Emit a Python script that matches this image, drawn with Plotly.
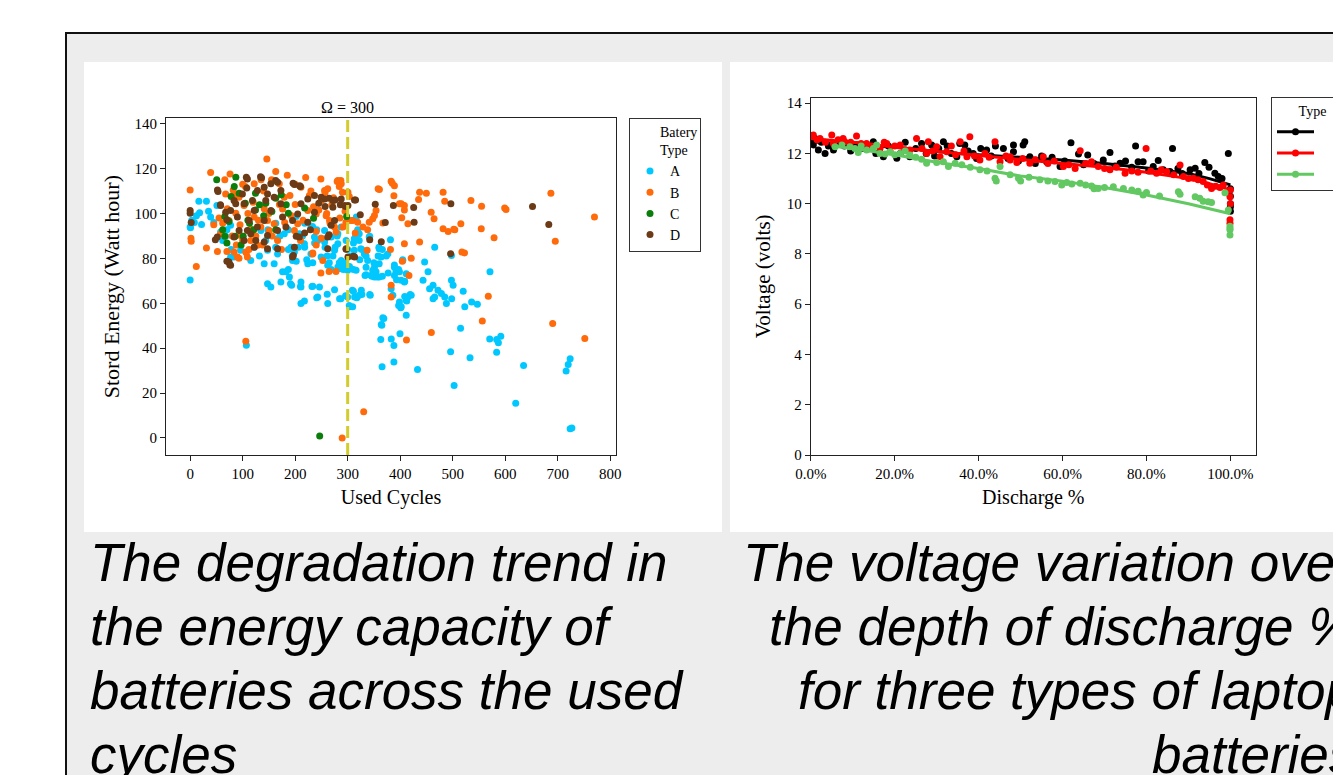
import plotly.graph_objects as go

# ---------------- data: left chart (Used Cycles vs Stored Energy) ----------------
A_points = [
 (0,94),(0,70.4),(3,97),(16.6,105.5),(31,105.5),(18,100.3),(21.7,95.1),(39,98.4),(45,96),(51,103.6),(12,99),(35,101),(8,96),(0.6,93.6),
 (58,91.7),(67.6,89.8),(77,94.7),(62,88),(70,92.7),(78,84),(77,80.6),(83.6,80.6),(96,83.6),(115.4,79),(122,85),(132,81),(134.6,92.4),
 (141,77.6),(144,88),(147.4,83.6),(148,92.7),(160,77.6),(163,85),(163,95.7),(166.5,82),(166.5,88.7),(171,90),(179.3,91),(182.4,74),
 (187,84),(187,92.7),(189,71.7),(192,85),(194.5,81),(195,79),(198.5,82.8),(202,78.7),(202,98.7),(206,85),(208,91),(214,90),(217.6,86.5),
 (218,85),(218,95.7),(222,79.4),(224,77.6),(230,82),(230,94),(233.5,78),(233,94.2),(236.7,89.5),(237,86.8),(241,92.7),(243,88),(249,89),
 (249.4,80.6),(256,87.3),(256,92.4),(257,85),(261,81),(262,76.9),(265,78),(268.5,75),(268.5,89.5),(272,81),(275,83.6),(276,85),(280,90),
 (281.3,76.1),(281.3,86.5),(281.3,91),(284,78),(287.7,75.4),(287.7,79),(287.7,94),(288,76.4),(292,75),(294,76.9),(296,78),(297,88),
 (300,83.9),(300,74.7),(300.5,96.9),(303.5,76.4),(307,81),(311,86.8),(311,75),(313.3,88),(315,89.8),(316,74.7),(316.4,98.4),(319,92.7),
 (322,91),(312.6,83.6),(312.6,88.7),(322,88),(323,79.4),(325,84.3),(327,83.9),(331.7,82),(333,72.4),(335,76),(335,81),(338,79),(341,89.5),
 (342,89.8),(344.5,72.4),(347.7,74.7),(350,78),(351,71.7),(351,76),(354,74),(358,81),(360,71.7),(360,77.6),(360,84.3),(363.6,80.6),
 (366,83.9),(366,72),(373.5,81),(376.5,82),(377,73.5),(381.5,88.3),(389,76),(392,74),(389,72.4),(398.6,74),(402,70.2),(408,69.5),
 (411.5,73.2),(405,79),(359.5,85),(389,77),(397,75),(393,70.5),
 (147.4,68.7),(153.7,67.2),(172.8,69.5),(193.3,68),(211,69.5),(211,67.2),(233.5,67.6),(246.3,67.2),(211,59.9),(217.6,61),(243,62.8),
 (262,59.9),(284.6,62),(303.7,58.4),(313.3,62.8),(326,65.8),(176,74),(187,75),(191,68.7),(210,67.5),(232,67.5),(241,62.5),(261,64),
 (275,66),(296,63.4),(309,65.8),(317.5,62.4),(327,63.9),(342,63.9),(300,62.8),(303,59),(309.5,58.4),(311,65.3),(322,63.6),(343,63.6),
 (287,62),(335,72.7),(346,72),(356,71.7),
 (382.8,66.5),(386,63.6),(398.6,60.6),(402,58.4),(397,59),(401,58),(411.5,61.3),(414.7,62.8),(421,63.6),(411.5,54.7),(408.6,63),
 (412.5,61),(419,63.9),(408.6,69.8),(404.7,79.4),
 (443.5,70.2),(446.5,78.4),(453,74),(456,66.5),(462.6,68),(465.7,62.8),(472,65.8),(478.5,64.3),(484.8,62.8),(488,59.9),(462.6,62),
 (465.7,85),(497.6,70.2),(500.8,68),(497.6,81.3),(498,62),(520,65.3),(523,58.4),(536,60.6),(547,59.6),(571,74),(515,48.9),
 (107,41.3),(364,50.5),(367,53.5),(363,43.9),(365.5,31.7),(383,44.1),(388,41.2),(388,33.8),(399.6,46.4),(368.8,53.2),(365,50.2),
 (433,30.5),(496,38.4),(502.7,23.4),(533,35.7),(570.5,44.1),(583.7,43.9),(591.6,45.3),(587,42.4),(583.7,38.2),(620,15.4),(635,32.3),
 (716,29.8),(720,32.7),(723.7,35.3),(723.7,4.1),(727,4.4),
]

B_points = [
 (0,110.5),(1.5,89),(2,87.6),(11.7,76.4),(31,84.6),(39,118.2),(52,83.1),(62,95.7),(70,83.1),(76,117.6),(66,115),(82,110.5),(87,100.1),
 (93,80.1),(106,43.1),(107,82.4),(105,112),(146,124.3),(163,118.7),(155,115),(249,115.4),(257,109.3),(245,101.6),(259,99),(266.5,95.7),
 (233.5,82.4),(249,73.5),(264.6,74.2),(277.8,74.2),(280,114.2),(284,112),(289.5,0),
 (382.8,114.4),(389,112.4),(360.4,110.7),(437,109.5),(449.8,109),(481.7,109.5),(484.8,105.5),(388,107.9),(435,106.2),(402,104.3),
 (408,103.6),(408,101.6),(398.6,104.3),(354,101.3),(351,99.1),(347.7,97.6),(341,96.1),(338,92.7),(367,95.8),(403,98.1),(414.7,95.4),
 (459,100.6),(464.5,97.6),(481.7,93.2),(491.3,92),(504,92.7),(515.5,95.4),(534.7,105.8),(555,103.2),(554.4,93.2),(578.8,89.2),
 (601.6,101.8),(687,109),(695.4,87.6),(770,98.4),(522.5,82.4),(437,87.3),(408,86.5),(381.5,84),(337,83.6),(421,80.1),(404,78.7),
 (416.7,72.4),(382.8,68),(382.8,62.8),(567.8,63.1),(556.4,52.1),(690.4,51),(751.6,44.3),(459.3,47),(412,43.6),(330.5,11.7),(314.5,91.3),
 (296.7,96.1),(309.5,96.9),(319,96.1),(290,109.5),(287,114.7),(303,107.6),(358,111),(385,113.5),(599,102.4),(517.5,82.8),(502,93),
 (67.6,108.7),(74,96.9),(58,91),(83.6,82.8),(90,80.6),(109,80.6),(106,82.8),(93,107.2),(102.7,103.6),(122,113.2),(169.8,113.2),
 (141,102.1),(122,98.4),(166.5,88),(134.6,94),(150.6,92.4),(192,99.1),(204.8,95.4),(224,101.3),(240,99.8),(249.4,105.8),(256,110.2),
 (265.5,96.9),(275,94),(287.7,113.2),(281.3,114.7),(291,94),(300.5,109.5),(306.8,96.9),(329,94),(252.6,79.1),(233.5,82),(198.5,92.4),
 (176,102),(211,111.7),(227,108),(278,91.7),(96,90.2),(115.4,88),(128,85.8),(147.4,96.9),(160,95.4),(179.3,107.2),(70.8,102.1),
 (83.6,108.7),(45,95),(55,98),(80,90),(95,95),(100,88),(110,100),(120,105),(130,97),(140,110),(150,100),(170,104),(180,96),(190,108),
 (200,104),(210,88),(215,97),(230,110),(235,103),(240,92),(250,89),(260,100),(270,104),(285,98),(295,101),(100,113),(115,93),(125,90),
 (135,115),(185,117),(200,113),(220,116),(240,86),(262,111),(273,107),(88,86),(112,84),(138,86),(156,90),(174,84),
]

C_points = [
 (50.6,115),(87,116.1),(66,98.7),(70,86.8),(78,107.6),(84,112),(93.4,109),(97,86),(105,104.6),(113,95.7),(124.5,101.6),(132,103.9),
 (144,104.6),(155.6,100.9),(163,106.8),(173.5,108.3),(187,100.1),(62,92.7),(66,89.8),(74,96.4),(85.6,89.8),(101,89.8),(121,92.7),
 (163,92.7),(183,103.9),(218,102.4),(235,97.9),(298,98.7),(246.7,0.9),(124.5,109),(110,97),(140,99),
]

D_points = [
 (0,101.3),(0,100.1),(2,96),(48,88.3),(52,110.5),(70,78.7),(75.5,77.2),(57.6,103.9),(70,97.2),(107,116.1),(134,116.4),(163,114.7),
 (196,113.5),(208.5,112.3),(297,84.1),(311,80.9),(313,106),(324,99.4),(342,88.3),(352.5,104.1),(364,87.4),(371.6,96),(387,103.6),
 (425.7,102.7),(426.5,96.1),(496.5,104.3),(496,82.1),(652,103.1),(683,95.1),(264.6,90.5),(268.5,94.7),(257,103.1),(245,104.6),
 (264.6,106.8),(276,106),(286,103.9),(296,103.1),(196.5,81.3),(202,89.8),(229,92.7),(218,91.3),
 (53,109.8),(109,115.4),(136,115.9),(166.5,113.9),(198.5,112.9),(210,112),(107.8,111.4),(99.5,108.7),(83.6,105.8),(58,103.6),
 (67.6,100.6),(77,101.3),(86.8,104.3),(90,98.4),(102.7,104.3),(118.7,105.8),(128,110.2),(141,111.7),(147.4,108.7),(153.7,113.2),
 (160,107.2),(172.8,110.2),(144,105.8),(122,101.3),(112.3,96.9),(93.2,92.4),(83.6,89.5),(102.7,88),(115.4,91),(128,94),(141,96.9),
 (153.7,101.3),(172.8,104.3),(176,98.4),(182.4,94),(166.5,92.4),(147.4,90.2),(125,88),(141,87.3),(195,96.9),(204.8,99.8),(211,104.3),
 (224,106.5),(236.7,108),(249.4,107.2),(236.7,100.6),(224,96.1),(208,89.5),(198.5,85),(195,80.6),(262,89.5),(262,84.3),(256,106.5),
 (271.8,105.8),(271.8,102.8),(287.7,106.5),(294,103.6),(300.5,103.6),(315,106),(297,84.3),(300.5,80.6),(313.3,80.6),(275,96.9),
 (51.7,89.5),(74,78.4),(77,76.9),(109,92.4),(122,85),(147.4,84.3),(166.5,84.3),
]

# ---------------- data: right chart (Discharge % vs Voltage) ----------------
black_points = [
 (0.3,12.5),(0.6,12.34),(1.0,12.6),(1.8,12.14),(2.5,12.45),(3.4,12.0),(4.2,12.3),(5.4,12.14),(6.5,12.4),(8,12.3),(9.5,12.1),(11,12.35),
 (12.5,12.2),(14.9,12.47),(15.5,12.0),(17.3,11.87),(18.5,12.3),(20.5,11.81),(21.3,12.0),(22.5,12.45),(23.6,11.87),(25,12.2),(26.4,12.4),
 (27.5,12.0),(28.8,12.34),(29.5,11.9),(30.5,12.2),(31.6,12.47),(32.5,12.3),(33.5,12.0),(34.8,11.87),(35.5,12.4),(36.7,12.34),(37.5,12.1),
 (38.7,12.0),(39.5,11.8),(40.5,12.2),(41.9,12.14),(43,11.9),(44,12.3),(45.9,12.2),(47,11.8),(48.3,12.07),(48.3,12.34),(49.5,11.7),
 (50.6,12.34),(51,12.47),(52.2,11.87),(53.5,11.6),(55,11.9),(56.2,11.67),(57.5,11.85),(59.4,11.48),(60.5,11.7),(62,12.43),(63.8,11.98),
 (65,11.55),(66,11.94),(67.5,11.6),(69.7,11.74),(71.3,12.04),(72.5,11.5),(73.7,11.61),(75,11.7),(76.5,11.45),(77.4,12.3),(78,11.67),
 (79.2,11.67),(80.5,11.3),(81.6,11.48),(82.8,11.72),(84,11.35),(85.6,11.28),(86.2,12.2),(87.5,11.4),(88.5,11.2),(90.4,11.35),(91.6,11.41),
 (92.5,11.2),(93.9,11.64),(94.9,11.45),(96.3,11.21),(97.1,11.08),(98,11.0),(99.5,12.0),(100,10.6),(100,10.3),(100,10.0),(100,9.88),(100,9.7),
]
red_points = [
 (0,12.7),(0.6,12.74),(1.5,12.55),(2.2,12.6),(3.5,12.45),(5,12.74),(5.4,12.4),(6.5,12.55),(7.7,12.6),(8.1,12.47),(9.5,12.45),(10.9,12.7),
 (12,12.4),(13.3,12.4),(14.5,12.3),(16.5,12.2),(17.5,12.45),(18.1,12.4),(18.9,12.07),(20,12.3),(21.3,12.34),(22.5,12.15),(23.6,12.14),
 (25.2,12.6),(26.5,12.2),(27.6,12.0),(28,12.47),(29,12.1),(30,12.27),(30.8,11.87),(32.4,12.07),(33.5,12.3),(34.5,11.95),(35.6,12.47),
 (36.5,12.1),(37.2,11.87),(37.9,12.67),(39,11.9),(40.3,11.74),(41.5,12.0),(42.5,11.85),(43.9,12.47),(45.1,11.67),(46.5,11.9),(47.5,11.74),
 (47.5,11.87),(49.1,11.64),(50.5,11.8),(52.2,11.61),(53.5,11.75),(55.4,11.87),(56.5,11.6),(58,11.7),(60.2,11.48),(61.5,11.55),(63,11.4),
 (64.2,12.11),(65.5,11.6),(66.9,11.67),(68.5,11.48),(70,11.4),(71.3,11.35),(72.8,11.45),(74.9,11.21),(76.5,11.3),(78,11.25),(79.9,12.2),
 (81,11.3),(82.4,11.21),(83.5,11.35),(84.8,11.28),(86.5,11.15),(88,11.54),(88.8,11.08),(90,11.0),(91.2,11.01),(92.3,10.95),(93.5,10.88),
 (94.5,10.75),(95.5,10.61),(96.5,10.7),(97.5,10.65),(98.3,10.75),(99.9,10.28),(100,10.55),(100,10.0),(99.9,9.36),(99.9,9.22),
]
green_points = [
 (5.8,12.27),(7.4,12.34),(9.3,12.27),(10.5,12.2),(11.3,12.04),(12,12.3),(13.3,12.14),(14.9,12.2),(15.7,12.34),(16.5,12.0),(17.7,11.98),
 (18.9,12.07),(20,11.95),(21.3,12.0),(22.5,12.1),(23.6,11.94),(25,11.85),(26.4,11.77),(27.6,11.61),(30,11.64),(31.6,11.67),(32.8,11.48),
 (34.4,11.61),(36,11.55),(38,11.45),(40.3,11.35),(42,11.3),(43.9,11.01),(44.2,10.9),(45.1,11.48),(47.5,11.15),(49.5,11.01),(50,10.9),
 (52,11.05),(54.6,10.95),(56.5,10.9),(58.2,10.88),(59.8,10.75),(61,10.85),(62.2,10.79),(64.2,10.82),(65.5,10.75),(66.9,10.71),(67.5,10.6),
 (68.5,10.61),(70,10.65),(72.1,10.68),(74.5,10.61),(76.5,10.55),(78,10.5),(79.2,10.35),(80,10.45),(83.1,10.31),(87.6,10.48),(88,10.38),
 (91.6,10.28),(92.7,10.22),(93.5,10.1),(94.7,10.08),(95.5,10.05),(98.7,10.44),(99.5,9.75),(99.9,9.1),(99.9,9.0),(99.9,8.96),(99.9,8.76),
]
black_trend_x = [0, 10, 20, 35, 50, 60, 70, 80, 90, 95, 100]
black_trend_y = [12.47, 12.35, 12.25, 12.0, 11.85, 11.74, 11.6, 11.42, 11.2, 11.0, 10.75]
red_trend_x = [0, 10, 20, 35, 50, 60, 70, 80, 90, 95, 100]
red_trend_y = [12.6, 12.45, 12.25, 12.0, 11.75, 11.6, 11.45, 11.25, 11.0, 10.8, 10.55]
green_trend_x = [5, 10, 20, 30, 40, 50, 60, 70, 80, 90, 100]
green_trend_y = [12.3, 12.2, 11.95, 11.65, 11.4, 11.1, 10.9, 10.65, 10.35, 10.0, 9.6]

left_types = ["A", "B", "C", "D"]
left_colors = ["#00C8FF", "#FF6A0A", "#0A7D0A", "#6B3A16"]
right_types = ["A", "B", "C"]
right_colors = ["#000000", "#FF0000", "#62C862"]

cycle_ticks = [0, 100, 200, 300, 400, 500, 600, 700, 800]
energy_ticks = [0, 20, 40, 60, 80, 100, 120, 140]
discharge_ticks = [0, 20, 40, 60, 80, 100]
discharge_labels = ["0.0%", "20.0%", "40.0%", "60.0%", "80.0%", "100.0%"]
voltage_ticks = [0, 2, 4, 6, 8, 10, 12, 14]
omega = 300

captions_left = ["The degradation trend in", "the energy capacity of", "batteries across the used", "cycles"]
captions_right = ["The voltage variation over", "the depth of discharge %", "for three types of laptop", "batteries"]

# ---------------- figure ----------------
W, H = 1333, 775
SERIF = "Liberation Serif, Times New Roman, serif"
SANS = "Liberation Sans, Arial, sans-serif"
NB = "\u00a0"

def px(x):
    return x / W

def py(y):
    return 1 - y / H

fig = go.Figure()

for name, pts, col in zip(left_types, [A_points, B_points, C_points, D_points], left_colors):
    fig.add_trace(go.Scatter(
        x=[p[0] for p in pts], y=[p[1] for p in pts], mode="markers", name=name,
        marker=dict(color=col, size=7, line=dict(width=0)),
        xaxis="x", yaxis="y", legend="legend"))

for name, pts, tx, ty, col in zip(right_types, [black_points, red_points, green_points],
                                  [black_trend_x, red_trend_x, green_trend_x],
                                  [black_trend_y, red_trend_y, green_trend_y], right_colors):
    fig.add_trace(go.Scatter(
        x=[p[0] for p in pts], y=[p[1] for p in pts], mode="markers", showlegend=False,
        marker=dict(color=col, size=7, line=dict(width=0)), xaxis="x2", yaxis="y2", legendgroup=name))
    fig.add_trace(go.Scatter(
        x=tx, y=ty, mode="lines", showlegend=False, line=dict(color=col, width=3),
        xaxis="x2", yaxis="y2", legendgroup=name))
    fig.add_trace(go.Scatter(
        x=[None], y=[None], mode="lines+markers", name=NB * 5 + name, legend="legend2", legendgroup=name,
        line=dict(color=col, width=3), marker=dict(color=col, size=7), xaxis="x2", yaxis="y2"))

axis_common = dict(showline=True, linecolor="#222", linewidth=1, mirror=True, ticks="outside",
                   ticklen=5, tickcolor="#222", showgrid=False, zeroline=False,
                   tickfont=dict(family=SERIF, size=15, color="black"))

fig.update_layout(
    width=W, height=H, margin=dict(l=0, r=0, t=0, b=0, autoexpand=False),
    paper_bgcolor="white", plot_bgcolor="white",
    font=dict(family=SERIF, color="black"),
    xaxis=dict(domain=[px(166), px(616)], range=[-46, 811], anchor="y", tickvals=cycle_ticks,
               title=dict(text="Used Cycles", font=dict(family=SERIF, size=20), standoff=8), **axis_common),
    yaxis=dict(domain=[py(455), py(118.3)], range=[-7.6, 142.4], anchor="x", tickvals=energy_ticks,
               title=dict(text="Stord Energy (Watt hour)", font=dict(family=SERIF, size=22), standoff=8), **axis_common),
    xaxis2=dict(domain=[px(810.8), px(1255.8)], range=[0, 106.05], anchor="y2", tickvals=discharge_ticks,
                ticktext=discharge_labels,
                title=dict(text="Discharge %", font=dict(family=SERIF, size=20), standoff=8), **axis_common),
    yaxis2=dict(domain=[py(455), py(97.7)], range=[0, 14.22], anchor="x2", tickvals=voltage_ticks,
                title=dict(text="Voltage (volts)", font=dict(family=SERIF, size=21), standoff=10), **axis_common),
    legend=dict(x=px(629), y=py(118), xanchor="left", yanchor="top", bgcolor="white",
                bordercolor="#333", borderwidth=1, font=dict(family=SERIF, size=14, color="black"),
                title=dict(text=NB * 8 + "Batery<br>" + NB * 8 + "Type", side="top",
                           font=dict(family=SERIF, size=14))),
    legend2=dict(x=px(1271), y=py(97), xanchor="left", yanchor="top", bgcolor="white", tracegroupgap=0,
                 bordercolor="#333", borderwidth=1, itemwidth=37, font=dict(family=SERIF, size=14, color="black"),
                 title=dict(text="Type", side="top center", font=dict(family=SERIF, size=14))),
)

shapes = [
    dict(type="rect", xref="paper", yref="paper", x0=px(66), x1=1.2, y0=-0.2, y1=py(33),
         fillcolor="#EDEDED", line=dict(color="#111", width=2), layer="below"),
    dict(type="rect", xref="paper", yref="paper", x0=px(84), x1=px(722), y0=py(532), y1=py(62),
         fillcolor="white", line=dict(width=0), layer="below"),
    dict(type="rect", xref="paper", yref="paper", x0=px(730), x1=1.1, y0=py(532), y1=py(62),
         fillcolor="white", line=dict(width=0), layer="below"),
    dict(type="line", xref="x", yref="y domain", x0=omega, x1=omega, y0=0, y1=1,
         line=dict(color="#D2CC2C", width=3, dash="12px,5px"), layer="above"),
]
fig.update_layout(shapes=shapes)

annotations = [
    dict(text="\u03a9 = %d" % omega, x=omega, xref="x", y=1, yref="y domain", yanchor="bottom",
         showarrow=False, font=dict(family=SERIF, size=16, color="black"), yshift=0),
]
cap_centers = [562, 626, 690, 754]
for t, yc in zip(captions_left, cap_centers):
    annotations.append(dict(text=t, x=px(88), xref="paper", xanchor="left", y=py(yc), yref="paper",
                            yanchor="middle", showarrow=False,
                            font=dict(family=SANS, size=53, color="black", style="italic")))
for t, yc in zip(captions_right, cap_centers):
    annotations.append(dict(text=t, x=px(1357), xref="paper", xanchor="right", y=py(yc), yref="paper",
                            yanchor="middle", showarrow=False, align="right",
                            font=dict(family=SANS, size=53, color="black", style="italic")))
fig.update_layout(annotations=annotations)

fig.write_html("out.html")
